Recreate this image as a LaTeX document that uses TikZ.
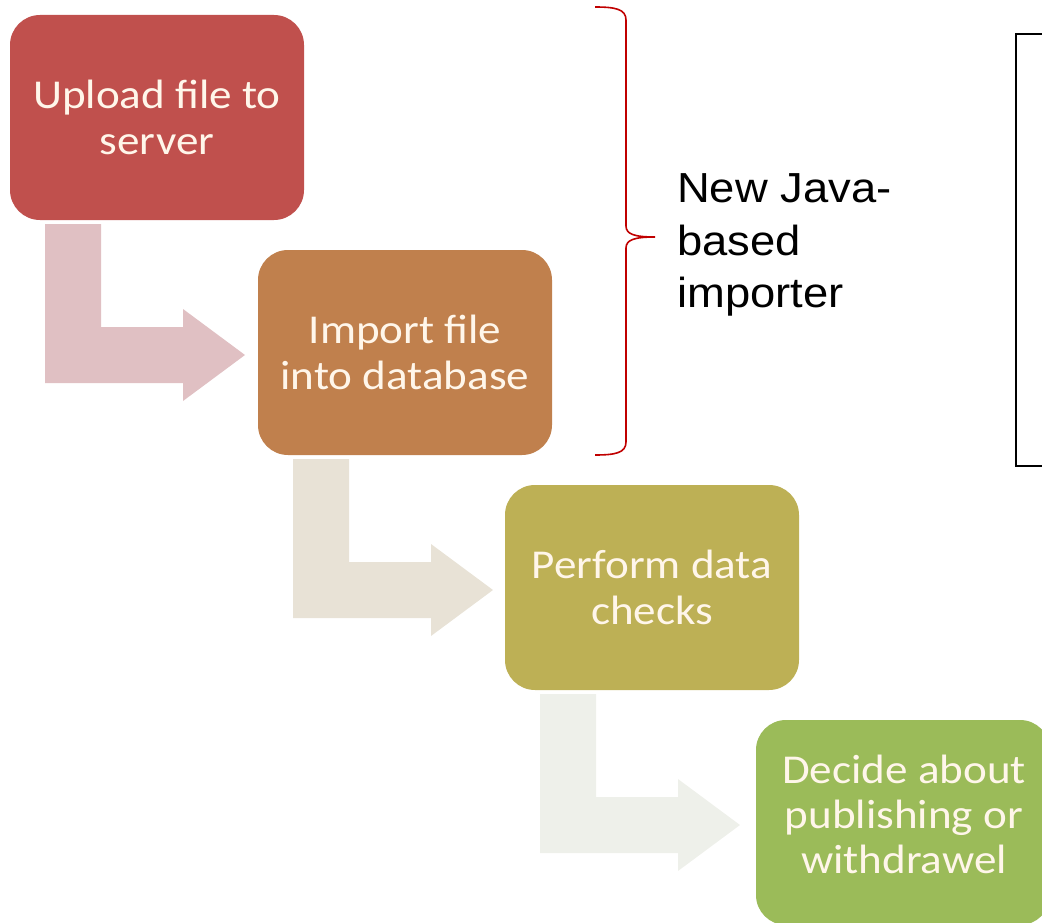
\documentclass[tikz,border=0pt]{standalone}
\usepackage{fontspec}
\setmainfont{Carlito}[FakeStretch=1.1]
\newfontfamily\labelfont{Liberation Sans}[FakeStretch=1.08]
\usetikzlibrary{calc}

\definecolor{stepA}{HTML}{C0504D}
\definecolor{stepB}{HTML}{C0804D}
\definecolor{stepC}{HTML}{BDB055}
\definecolor{stepD}{HTML}{9BBB59}
\definecolor{arrowA}{HTML}{E0C0C3}
\definecolor{arrowB}{HTML}{E8E2D6}
\definecolor{arrowC}{HTML}{EEF0EA}
\definecolor{stepText}{HTML}{FFF6EA}
\definecolor{braceRed}{HTML}{C00000}

\tikzset{
  stepbox/.style={rectangle, rounded corners=30pt, minimum width=294pt,
    minimum height=205pt, inner sep=0pt, outer sep=0pt, align=center,
    text=stepText, font=\fontsize{41}{46}\selectfont},
  notelabel/.style={align=left, anchor=west, inner sep=0pt,
    font=\labelfont\fontsize{42}{52.5}\selectfont},
}

% bent arrow leaving the bottom of a step box and pointing right
\newcommand\bentarrow[2]{%
  \fill[#2] ($(#1.south west)+(35,4)$) -- ++(56,0) -- ++(0,103) -- ++(82,0)
    -- ++(0,-18) -- ++(62,46) -- ++(-62,46) -- ++(0,-18) -- ++(-138,0) -- cycle;}

\begin{document}
\begin{tikzpicture}[x=1pt, y=-1pt]
  \useasboundingbox (0,0) rectangle (1042,923);

  % process steps
  \node[stepbox, fill=stepA] (s1) at (157,117.5) {Upload file to\\server};
  \node[stepbox, fill=stepB] (s2) at (405,352.5) {Import file\\into database};
  \node[stepbox, fill=stepC] (s3) at (652,587.5) {Perform data\\checks};
  \node[stepbox, fill=stepD] (s4) at (903,822.5) {};
  \node[text=stepText, align=center, inner sep=0pt, font=\fontsize{41}{45}\selectfont]
    (s4text) at (904,814) {Decide about\\publishing or\\withdrawel};

  % connecting arrows
  \bentarrow{s1}{arrowA}
  \bentarrow{s2}{arrowB}
  \bentarrow{s3}{arrowC}

  % brace grouping the first two steps
  \coordinate (btop) at (595,7);
  \coordinate (btip) at (655,237);
  \coordinate (bbot) at (595,455);
  \draw[braceRed, line width=1.6pt]
    (btop) .. controls (615,7) and (626,9) .. (626,20) -- (626,226)
    .. controls (626,234) and (634,237) .. (btip)
    .. controls (634,237) and (626,240) .. (626,248) -- (626,442)
    .. controls (626,453) and (615,455) .. (bbot);
  \node[notelabel] (lbl) at (677,245) {New Java-\\based\\importer};

  % framed panel at the right edge
  \draw[black, line width=2pt] (1060,34) -- (1016,34) -- (1016,466) -- (1060,466);
\end{tikzpicture}
\end{document}
